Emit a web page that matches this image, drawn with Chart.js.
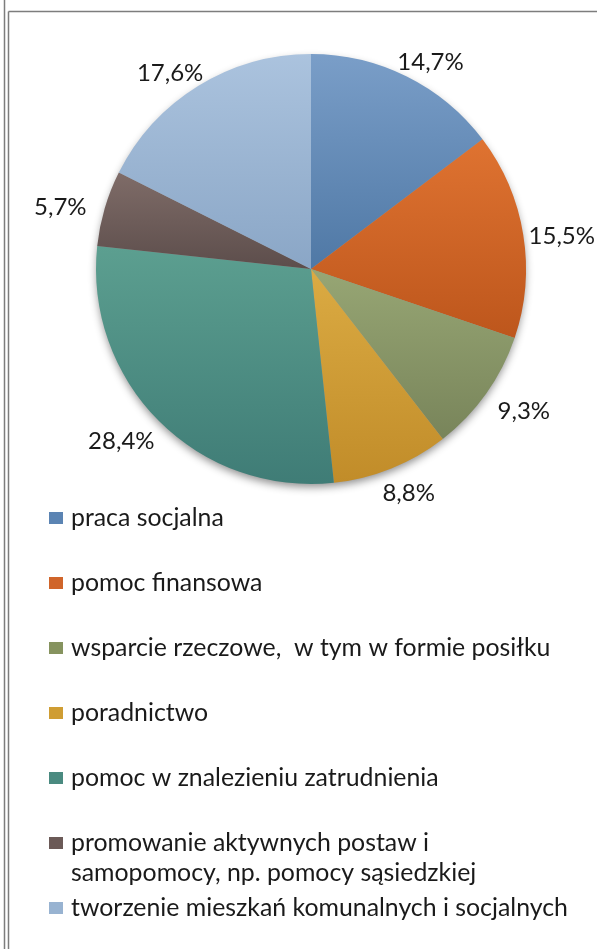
<!DOCTYPE html>
<html lang="pl">
<head>
<meta charset="utf-8">
<title>Formy pomocy</title>
<script src="https://cdn.jsdelivr.net/npm/chart.js@4.4.1/dist/chart.umd.min.js"></script>
<style>
  html, body { margin: 0; padding: 0; background: #fff; }
  #wrap { position: relative; width: 597px; height: 949px; }
  #pieChart { display: block; }
</style>
</head>
<body>
<div id="wrap"><canvas id="pieChart" width="597" height="949"></canvas></div>
<script>
const categories = [
  'praca socjalna',
  'pomoc finansowa',
  'wsparcie rzeczowe,  w tym w formie posiłku',
  'poradnictwo',
  'pomoc w znalezieniu zatrudnienia',
  ['promowanie aktywnych postaw i', 'samopomocy, np. pomocy sąsiedzkiej'],
  'tworzenie mieszkań komunalnych i socjalnych'
];
const shares = [14.7, 15.5, 9.3, 8.8, 28.4, 5.7, 17.6];

// each slice fades from a lighter top to a darker bottom
const topColors = ['#7a9ec8', '#df7331', '#97a674', '#dbab43', '#5c9f90', '#7f6c68', '#abc3de'];
const bottomColors = ['#4f78a5', '#bd561c', '#78845a', '#c18c29', '#3f7c76', '#5c4d4b', '#8aa6c6'];
const markerColors = ['#5b84b3', '#d0652a', '#86935f', '#cf9d33', '#4a8a80', '#6b5a57', '#98b3d1'];

const FONT = 'Lato, "Open Sans", sans-serif';
const pctText = shares.map(v => v.toFixed(1).replace('.', ',') + '%');

function sliceGradient(context) {
  const chart = context.chart;
  const area = chart.chartArea;
  const i = context.dataIndex;
  if (!area) return markerColors[i];
  const cy = (area.top + area.bottom) / 2;
  const r = Math.min(area.width, area.height) / 2;
  const total = shares.reduce((a, b) => a + b, 0);
  let start = 0;
  for (let k = 0; k < i; k++) start += shares[k];
  const a0 = start / total * 2 * Math.PI;
  const a1 = (start + shares[i]) / total * 2 * Math.PI;
  // vertical extent of the sector, angles clockwise from 12 o'clock
  const ys = [0, -Math.cos(a1)];
  for (let a = a0; a < a1; a += 0.02) ys.push(-Math.cos(a));
  const y0 = cy + r * Math.min(...ys);
  const y1 = cy + r * Math.max(...ys);
  const g = chart.ctx.createLinearGradient(0, y0, 0, y1 + 1);
  g.addColorStop(0, topColors[i]);
  g.addColorStop(1, bottomColors[i]);
  return g;
}

// soft shadow under the whole pie
const pieShadow = {
  id: 'pieShadow',
  beforeDatasetsDraw(chart) {
    const arc = chart.getDatasetMeta(0).data[0];
    if (!arc) return;
    const ctx = chart.ctx;
    ctx.save();
    ctx.shadowColor = 'rgba(0,0,0,0.45)';
    ctx.shadowBlur = 9;
    ctx.shadowOffsetY = 4;
    ctx.beginPath();
    ctx.arc(arc.x, arc.y, arc.outerRadius - 1, 0, Math.PI * 2);
    ctx.fillStyle = '#999';
    ctx.fill();
    ctx.restore();
  }
};

// percentage labels just outside each slice
const pctLabels = {
  id: 'pctLabels',
  afterDatasetsDraw(chart) {
    const ctx = chart.ctx;
    ctx.save();
    ctx.font = '24px ' + FONT;
    ctx.fillStyle = '#1a1a1a';
    ctx.textAlign = 'center';
    ctx.textBaseline = 'middle';
    chart.getDatasetMeta(0).data.forEach((arc, i) => {
      const mid = (arc.startAngle + arc.endAngle) / 2;
      const c = Math.cos(mid), s = Math.sin(mid);
      const d = arc.outerRadius + 8;
      const tw = ctx.measureText(pctText[i]).width;
      const w = tw + 24;
      const h = 26;
      let x = arc.x + c * d + c * w / 2;
      // keep the text inside the canvas
      x = Math.min(x, chart.width - 2 - tw / 2);
      x = Math.max(x, 12 + tw / 2);
      const y = arc.y + s * d + s * h / 2 + 5;
      ctx.fillText(pctText[i], x, y);
    });
    ctx.restore();
  }
};

// legend stacked below the pie, one row per category
const sideLegend = {
  id: 'sideLegend',
  afterDraw(chart) {
    const ctx = chart.ctx;
    ctx.save();
    let size = 22;
    ctx.font = size + 'px ' + FONT;
    const longest = ctx.measureText(categories[6]).width;
    size = Math.min(26, Math.max(18, size * 497 / longest));
    ctx.font = size + 'px ' + FONT;
    ctx.textBaseline = 'middle';
    ctx.textAlign = 'left';
    categories.forEach((label, i) => {
      const y = 518 + 65 * i;
      ctx.fillStyle = markerColors[i];
      ctx.fillRect(49, y - 6, 14, 12);
      ctx.fillStyle = '#1a1a1a';
      const lines = Array.isArray(label) ? label : [label];
      lines.forEach((line, j) => ctx.fillText(line, 71, y + j * 30));
    });
    ctx.restore();
  }
};

// frame lines along the top and left edge
const frame = {
  id: 'frame',
  afterDraw(chart) {
    const ctx = chart.ctx;
    ctx.save();
    ctx.strokeStyle = '#7d7d7d';
    ctx.lineWidth = 1.5;
    ctx.beginPath();
    ctx.moveTo(4.5, 0); ctx.lineTo(4.5, 949);
    ctx.moveTo(8.5, 11.5); ctx.lineTo(8.5, 949);
    ctx.moveTo(8.5, 11.5); ctx.lineTo(597, 11.5);
    ctx.stroke();
    ctx.restore();
  }
};

const ctx = document.getElementById('pieChart').getContext('2d');
const pieChart = new Chart(ctx, {
  type: 'pie',
  data: {
    labels: categories,
    datasets: [{
      data: shares,
      backgroundColor: sliceGradient,
      borderWidth: 0
    }]
  },
  options: {
    responsive: false,
    animation: false,
    layout: { padding: { left: 96, right: 71, top: 54, bottom: 465 } },
    plugins: {
      legend: { display: false },
      tooltip: { enabled: false }
    }
  },
  plugins: [pieShadow, pctLabels, sideLegend, frame]
});
</script>
</body>
</html>
